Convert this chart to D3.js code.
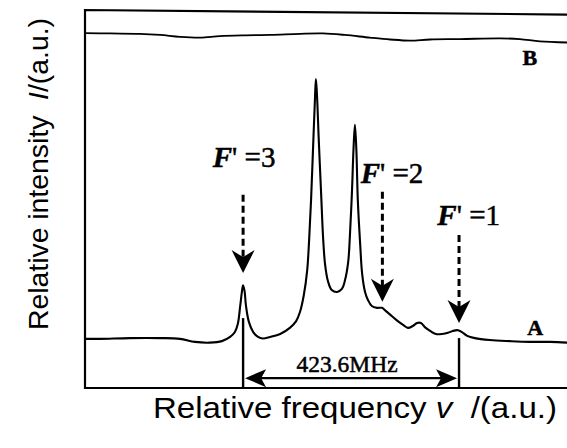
<!DOCTYPE html>
<html lang="en">
<head>
<meta charset="UTF-8">
<title>hyperfine spectrum</title>
<script src="https://d3js.org/d3.v7.min.js"></script>
<style>
    body{ margin:0; background:#fff; }
    .trace{ fill:none; stroke:#000; stroke-linejoin:round; }
    .frame{ fill:none; stroke:#000; stroke-width:2.2; }
    .serif{ font-family:"Liberation Serif","Times New Roman",serif; stroke:#000; stroke-width:0.5; }
    .sans{ font-family:"Liberation Sans",Arial,sans-serif; }
</style>
</head>
<body>
<svg id="chart" width="567" height="448"></svg>
<script>
    // trace A: absorption spectrum (relative frequency v, relative intensity I)
    let specA_v = [0,3.1,9.3,15.6,19.7,22.8,25.9,28.4,30.1,31.1,31.7,32.2,32.6,32.8,33.1,33.4,34.0,34.9,35.9,36.9,
        38.4,40.5,42.5,43.8,44.6,45.4,46.1,46.5,46.9,47.3,47.7,47.9,48.1,48.5,49.0,49.4,49.8,50.4,51.2,52.3,
        53.3,53.9,54.6,55.0,55.4,55.7,56.0,56.3,56.6,57.1,57.5,58.1,58.7,59.5,60.6,61.6,62.4,63.7,64.9,66.0,
        67.0,68.0,68.9,69.7,70.5,71.6,72.8,74.1,75.3,76.3,77.4,78.2,79.3,80.9,84.0,88.2,92.3,96.5,100]
    let specA_I = [13.0,13.0,13.2,13.2,13.0,12.2,12.0,12.4,13.5,14.8,16.9,21.7,25.9,27.2,25.7,21.7,17.5,14.8,13.5,13.1,
        13.5,14.3,15.9,17.7,20.1,24.6,31.2,39.2,49.7,63.0,76.2,81.7,78.3,65.6,51.1,39.7,32.8,28.3,25.9,25.4,
        26.2,28.3,33.3,41.3,52.4,63.0,69.6,63.0,49.7,37.8,30.2,25.4,23.3,21.7,21.2,21.2,20.4,19.0,17.7,16.7,
        15.9,16.4,17.2,17.2,16.1,15.1,14.3,14.3,14.6,15.1,15.3,14.8,13.8,13.2,12.7,12.4,12.2,12.2,12.0]
    // trace B: reference (transmission) signal
    let specB_v = [0,5.2,11.4,15.6,19.7,23.9,28.0,33.2,38.4,44.6,49.4,53.9,59.1,63.3,67.4,71.6,77.8,86.1,90.2,94.4,100]
    let specB_I = [93.9,93.8,93.7,93.4,92.9,92.7,93.1,93.3,93.4,93.7,93.8,93.4,92.7,92.2,91.9,92.2,92.3,92.5,92.3,91.7,91.4]

    // hyperfine components F'
    let comp_F = ["3","2","1"]
    let comp_v = [32.8, 61.7, 77.6]
    let comp_dashTop = [51.1, 51.9, 40.5]
    let comp_tip = [30.4, 22.8, 17.2]
    let comp_labelV = [33.0, 63.7, 79.6]
    let comp_labelI = [58.5, 54.2, 43.1]

    // splitting marker between F'=3 and F'=1
    let split_v = [32.8, 77.6]
    let split_lineTop = [18.5, 13.2]
    let split_I = 2.6
    let split_text = "423.6MHz"

    let trace_names = ["A","B"]
    let trace_labelV = [93.4, 92.3]
    let trace_labelI = [14.0, 85.4]

    let xLabel = "Relative frequency "
    let yLabel = "Relative intensity\u00a0\u00a0"

    let svg = d3.select("#chart")
    let x = d3.scaleLinear().domain([0,100]).range([85,567])
    let y = d3.scaleLinear().domain([0,100]).range([388,10])

    // frame (top edge is slightly tilted in the scan)
    svg.append("path").attr("class","frame")
        .attr("d", d3.line()([[x(100),y(98.8)],[x(0),y(100)],[x(0),y(0)],[x(100),y(0)]]))

    let line = d3.line().x(d => x(d[0])).y(d => y(d[1])).curve(d3.curveCatmullRom.alpha(0.5))
    svg.append("path").attr("class","trace").attr("stroke-width",2.1)
        .attr("d", line(d3.zip(specA_v, specA_I)))
    svg.append("path").attr("class","trace").attr("stroke-width",1.8)
        .attr("d", line(d3.zip(specB_v, specB_I)))

    // notched arrowhead pointing along angle (radians), tip at (tx,ty)
    function arrowHead(tx, ty, ang, len, half, notch){
        let c = Math.cos(ang), s = Math.sin(ang)
        let pts = [[0,0],[-len,-half],[-len+notch,0],[-len,half]].map(p =>
            [tx + p[0]*c - p[1]*s, ty + p[0]*s + p[1]*c])
        svg.append("path").attr("fill","#000").attr("d", d3.line()(pts) + "Z")
    }

    comp_F.forEach(function (f, i){
        let cx = x(comp_v[i])
        svg.append("line")
            .attr("x1",cx).attr("x2",cx)
            .attr("y1",y(comp_dashTop[i])).attr("y2",y(comp_tip[i]) - 12)
            .attr("stroke","#000").attr("stroke-width",3)
            .attr("stroke-dasharray","7,4")
        arrowHead(cx, y(comp_tip[i]), Math.PI/2, 23, 11.5, 7)
        let t = svg.append("text").attr("class","serif")
            .attr("x", x(comp_labelV[i])).attr("y", y(comp_labelI[i]))
            .attr("text-anchor","middle").attr("font-size",29)
        t.append("tspan").attr("font-style","italic").attr("font-weight","bold").text("F")
        t.append("tspan").text("'\u00a0=" + f)
    })

    split_v.forEach(function (v, i){
        svg.append("line")
            .attr("x1",x(v)).attr("x2",x(v))
            .attr("y1",y(split_lineTop[i])).attr("y2",y(0))
            .attr("stroke","#000").attr("stroke-width",2.4)
    })
    let ax0 = x(split_v[0]) + 2, ax1 = x(split_v[1]) - 2, ay = y(split_I)
    svg.append("line").attr("x1",ax0 + 10).attr("x2",ax1 - 10)
        .attr("y1",ay).attr("y2",ay).attr("stroke","#000").attr("stroke-width",2.4)
    arrowHead(ax0, ay, Math.PI, 21, 9, 5)
    arrowHead(ax1, ay, 0, 21, 9, 5)
    svg.append("text").attr("class","serif")
        .attr("x", x(d3.mean(split_v)) - 4).attr("y", y(4.2))
        .attr("text-anchor","middle").attr("font-size",23)
        .attr("textLength",101).attr("lengthAdjust","spacingAndGlyphs")
        .text(split_text)

    trace_names.forEach(function (n, i){
        svg.append("text").attr("class","serif")
            .attr("x", x(trace_labelV[i])).attr("y", y(trace_labelI[i]))
            .attr("text-anchor","middle").attr("font-size",22).attr("font-weight","bold")
            .text(n)
    })

    // axis titles
    let xt = svg.append("text").attr("class","sans")
        .attr("x",153).attr("y",418).attr("font-size",30)
        .attr("textLength",404).attr("lengthAdjust","spacingAndGlyphs")
    xt.append("tspan").text(xLabel)
    xt.append("tspan").attr("font-style","italic").text("v")
    xt.append("tspan").text("\u00a0\u00a0/(a.u.)")

    let yt = svg.append("text").attr("class","sans")
        .attr("transform","translate(48,330) rotate(-90)")
        .attr("font-size",28)
        .attr("textLength",312).attr("lengthAdjust","spacingAndGlyphs")
    yt.append("tspan").text(yLabel)
    yt.append("tspan").attr("font-style","italic").text("I")
    yt.append("tspan").text("/(a.u.)")
</script>
</body>
</html>
